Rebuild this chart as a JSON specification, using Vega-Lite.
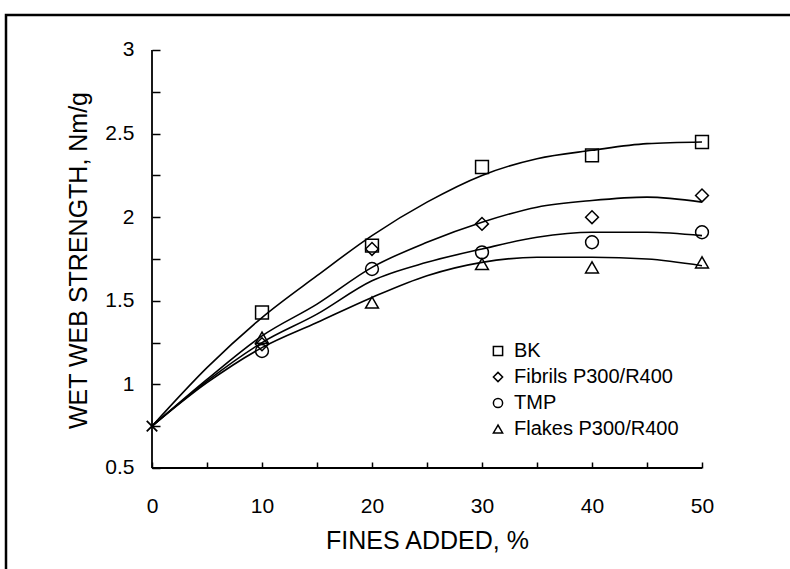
{
  "$schema": "https://vega.github.io/schema/vega-lite/v6.json",
  "width": 784,
  "height": 554,
  "autosize": "none",
  "padding": {"left": 6, "top": 15, "right": 0, "bottom": 0},
  "background": "white",
  "config": {
    "view": {"stroke": "black", "strokeWidth": 2.5, "strokeDash": [784, 1338, 560], "strokeCap": "square"},
    "font": "Liberation Sans",
    "legend": {
      "orient": "none", "legendX": 482, "legendY": 326, "padding": 0,
      "symbolSize": 85, "symbolStrokeColor": "black", "symbolFillColor": "white", "symbolStrokeWidth": 1.5,
      "labelFontSize": 20, "labelFont": "Liberation Sans", "labelColor": "black", "labelLimit": 400, "rowPadding": 6, "labelOffset": 6
    }
  },
  "datasets": {
    "curves": [
      {"series": "BK", "x": 0, "y": 0.75}, {"series": "BK", "x": 5, "y": 1.10}, {"series": "BK", "x": 10, "y": 1.40},
      {"series": "BK", "x": 15, "y": 1.65}, {"series": "BK", "x": 20, "y": 1.89}, {"series": "BK", "x": 25, "y": 2.09},
      {"series": "BK", "x": 30, "y": 2.25}, {"series": "BK", "x": 35, "y": 2.35}, {"series": "BK", "x": 40, "y": 2.40},
      {"series": "BK", "x": 45, "y": 2.44}, {"series": "BK", "x": 50, "y": 2.45},
      {"series": "Fibrils P300/R400", "x": 0, "y": 0.75}, {"series": "Fibrils P300/R400", "x": 5, "y": 1.03}, {"series": "Fibrils P300/R400", "x": 10, "y": 1.29},
      {"series": "Fibrils P300/R400", "x": 15, "y": 1.48}, {"series": "Fibrils P300/R400", "x": 20, "y": 1.70}, {"series": "Fibrils P300/R400", "x": 25, "y": 1.85},
      {"series": "Fibrils P300/R400", "x": 30, "y": 1.97}, {"series": "Fibrils P300/R400", "x": 35, "y": 2.06}, {"series": "Fibrils P300/R400", "x": 40, "y": 2.10},
      {"series": "Fibrils P300/R400", "x": 45, "y": 2.12}, {"series": "Fibrils P300/R400", "x": 50, "y": 2.09},
      {"series": "TMP", "x": 0, "y": 0.75}, {"series": "TMP", "x": 5, "y": 1.02}, {"series": "TMP", "x": 10, "y": 1.25},
      {"series": "TMP", "x": 15, "y": 1.42}, {"series": "TMP", "x": 20, "y": 1.62}, {"series": "TMP", "x": 25, "y": 1.73},
      {"series": "TMP", "x": 30, "y": 1.81}, {"series": "TMP", "x": 35, "y": 1.88}, {"series": "TMP", "x": 40, "y": 1.91},
      {"series": "TMP", "x": 45, "y": 1.91}, {"series": "TMP", "x": 50, "y": 1.89},
      {"series": "Flakes P300/R400", "x": 0, "y": 0.75}, {"series": "Flakes P300/R400", "x": 5, "y": 1.01}, {"series": "Flakes P300/R400", "x": 10, "y": 1.22},
      {"series": "Flakes P300/R400", "x": 15, "y": 1.37}, {"series": "Flakes P300/R400", "x": 20, "y": 1.52}, {"series": "Flakes P300/R400", "x": 25, "y": 1.65},
      {"series": "Flakes P300/R400", "x": 30, "y": 1.73}, {"series": "Flakes P300/R400", "x": 35, "y": 1.76}, {"series": "Flakes P300/R400", "x": 40, "y": 1.76},
      {"series": "Flakes P300/R400", "x": 45, "y": 1.75}, {"series": "Flakes P300/R400", "x": 50, "y": 1.71}
    ],
    "points": [
      {"series": "BK", "x": 10, "y": 1.43}, {"series": "BK", "x": 20, "y": 1.83}, {"series": "BK", "x": 30, "y": 2.30},
      {"series": "BK", "x": 40, "y": 2.37}, {"series": "BK", "x": 50, "y": 2.45},
      {"series": "Fibrils P300/R400", "x": 10, "y": 1.24}, {"series": "Fibrils P300/R400", "x": 20, "y": 1.81}, {"series": "Fibrils P300/R400", "x": 30, "y": 1.96},
      {"series": "Fibrils P300/R400", "x": 40, "y": 2.00}, {"series": "Fibrils P300/R400", "x": 50, "y": 2.13},
      {"series": "TMP", "x": 10, "y": 1.20}, {"series": "TMP", "x": 20, "y": 1.69}, {"series": "TMP", "x": 30, "y": 1.79},
      {"series": "TMP", "x": 40, "y": 1.85}, {"series": "TMP", "x": 50, "y": 1.91},
      {"series": "Flakes P300/R400", "x": 10, "y": 1.28}, {"series": "Flakes P300/R400", "x": 20, "y": 1.49}, {"series": "Flakes P300/R400", "x": 30, "y": 1.72},
      {"series": "Flakes P300/R400", "x": 40, "y": 1.70}, {"series": "Flakes P300/R400", "x": 50, "y": 1.73}
    ],
    "start": [{"x": 0, "y": 0.75}]
  },
  "layer": [
    {
      "data": {"name": "curves"},
      "mark": {"type": "line", "interpolate": "monotone", "color": "black", "strokeWidth": 1.6},
      "encoding": {
        "x": {
          "field": "x", "type": "quantitative",
          "scale": {"domain": [-13.2727, 58], "nice": false, "zero": false},
          "axis": {
            "title": "FINES ADDED, %", "offset": -107, "domain": false, "grid": false,
            "values": [0, 5, 10, 15, 20, 25, 30, 35, 40, 45, 50],
            "labelExpr": "datum.value % 10 === 0 ? datum.label : ''",
            "labelOverlap": false, "labelFlush": false, "labelBound": false,
            "tickSize": 6, "tickColor": "black", "tickWidth": 1.5,
            "labelPadding": 27, "labelFontSize": 21, "labelColor": "black", "labelFont": "Liberation Sans",
            "titleFontSize": 25, "titleFontWeight": "normal", "titleColor": "black", "titleFont": "Liberation Sans",
            "titleX": 421, "titleY": 86, "titleBaseline": "alphabetic", "titleAlign": "center"
          }
        },
        "y": {
          "field": "y", "type": "quantitative",
          "scale": {"domain": [-0.1041, 3.2093], "nice": false, "zero": false},
          "axis": {
            "title": "WET WEB STRENGTH, Nm/g", "offset": -154, "domain": false, "grid": false,
            "values": [0.5, 0.75, 1, 1.25, 1.5, 1.75, 2, 2.25, 2.5, 2.75, 3],
            "format": "~g",
            "labelExpr": "datum.value % 0.5 === 0 ? datum.label : ''",
            "labelOverlap": false, "labelFlush": false, "labelBound": false,
            "tickSize": 8, "tickColor": "black", "tickWidth": 1.5,
            "labelPadding": 18, "labelFontSize": 21, "labelColor": "black", "labelFont": "Liberation Sans",
            "titleFontSize": 25, "titleFontWeight": "normal", "titleColor": "black", "titleFont": "Liberation Sans",
            "titleX": -74, "titleY": 245, "titleAngle": -90, "titleBaseline": "alphabetic", "titleAlign": "center"
          }
        },
        "detail": {"field": "series"}
      }
    },
    {
      "data": {"name": "points"},
      "mark": {"type": "point", "filled": false, "color": "black", "strokeWidth": 1.5, "size": 165, "opacity": 1},
      "encoding": {
        "x": {"field": "x", "type": "quantitative"},
        "y": {"field": "y", "type": "quantitative"},
        "shape": {
          "field": "series", "type": "nominal",
          "scale": {"domain": ["BK", "Fibrils P300/R400", "TMP", "Flakes P300/R400"], "range": ["square", "diamond", "circle", "triangle-up"]},
          "legend": {"title": null}
        }
      }
    },
    {
      "data": {"name": "start"},
      "mark": {"type": "point", "shape": "M-1,-1L1,1M-1,1L1,-1", "filled": false, "color": "black", "strokeWidth": 1.8, "size": 110, "opacity": 1},
      "encoding": {
        "x": {"field": "x", "type": "quantitative"},
        "y": {"field": "y", "type": "quantitative"}
      }
    },
    {
      "data": {"values": [{}]},
      "mark": {"type": "rule", "color": "black", "strokeWidth": 1.8},
      "encoding": {
        "x": {"datum": 0, "type": "quantitative"},
        "y": {"datum": 0.5, "type": "quantitative"},
        "y2": {"datum": 3}
      }
    },
    {
      "data": {"values": [{}]},
      "mark": {"type": "rule", "color": "black", "strokeWidth": 1.8},
      "encoding": {
        "y": {"datum": 0.5, "type": "quantitative"},
        "x": {"datum": 0, "type": "quantitative"},
        "x2": {"datum": 50}
      }
    }
  ]
}
